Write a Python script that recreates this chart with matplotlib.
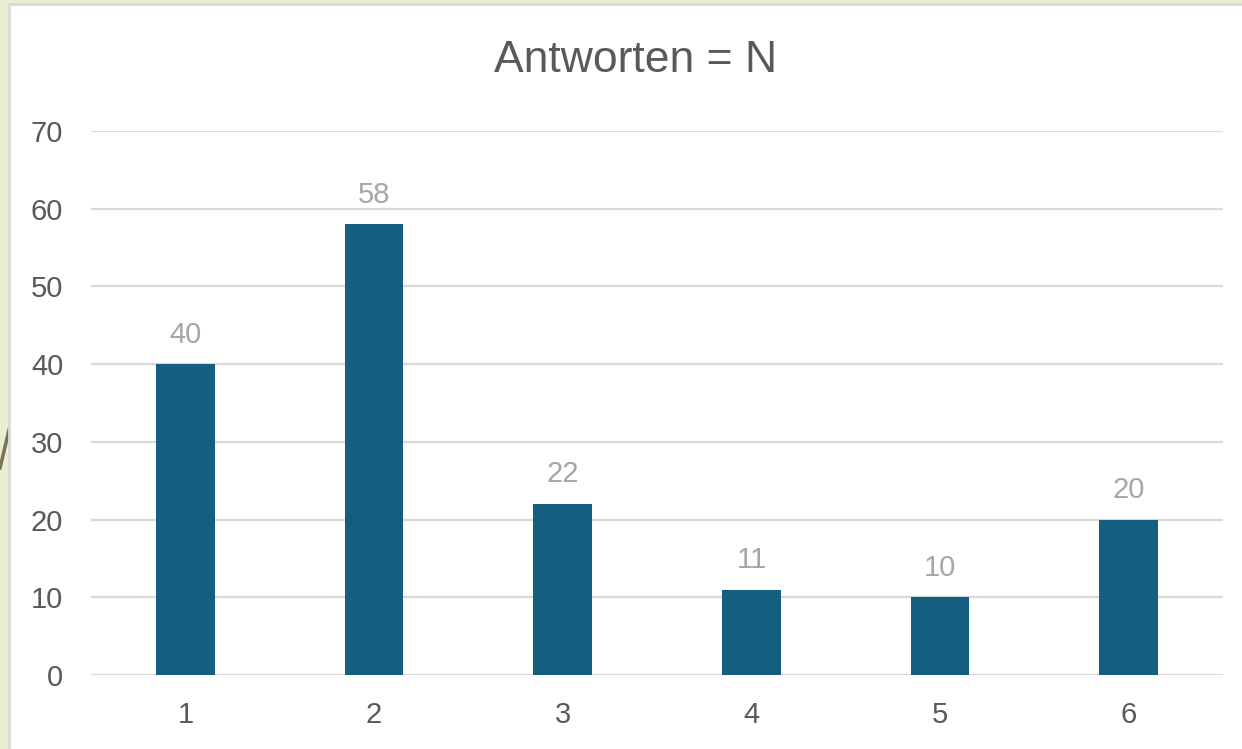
import matplotlib.pyplot as plt
from matplotlib.patches import Rectangle
from matplotlib.lines import Line2D

categories = ['1', '2', '3', '4', '5', '6']
values = [40, 58, 22, 11, 10, 20]
title = 'Antworten = N'

plt.rcParams['font.family'] = ['Liberation Sans', 'DejaVu Sans']

fig = plt.figure(figsize=(12.42, 7.49), dpi=100)
fig.patch.set_facecolor('#e9edd2')

# chart area (white box with thin grey border)
fig.patches.append(Rectangle((9/1242, -0.05), 1.05, 1 - 4/749 + 0.05,
                             transform=fig.transFigure, facecolor='white',
                             edgecolor='#d9d9d9', linewidth=2, zorder=-2))
# decorative stroke of the slide background
fig.lines.append(Line2D([0/1242, 9/1242], [1 - 468/749, 1 - 430/749],
                        transform=fig.transFigure, color='#7a7350',
                        linewidth=2.5, zorder=-3))

ax = fig.add_axes([91/1242, 1 - 675/749, 1132/1242, 544/749])
ax.set_facecolor('none')
x = range(len(categories))
bars = ax.bar(x, values, width=0.31, color='#165e80', zorder=3)
for b, v in zip(bars, values):
    ax.text(b.get_x() + b.get_width()/2, v + 2.0, str(v), ha='center', va='bottom',
            fontsize=21, color='#a6a6a6')

ax.set_xlim(-0.5, len(categories) - 0.5)
ax.set_ylim(0, 70)
ax.set_yticks(range(0, 71, 10))
ax.set_xticks(list(x))
ax.set_xticklabels(categories)
ax.yaxis.grid(True, color='#d9d9d9', linewidth=1.6, zorder=0)
ax.set_axisbelow(True)
for s in ax.spines.values():
    s.set_visible(False)
ax.tick_params(length=0, labelsize=21, labelcolor='#595959', pad=19)
ax.tick_params(axis='y', pad=20)

fig.text(636/1242, 1 - 61/749, title, ha='center', va='center', fontsize=32,
         color='#595959')

fig.savefig('out.png', dpi=100)
